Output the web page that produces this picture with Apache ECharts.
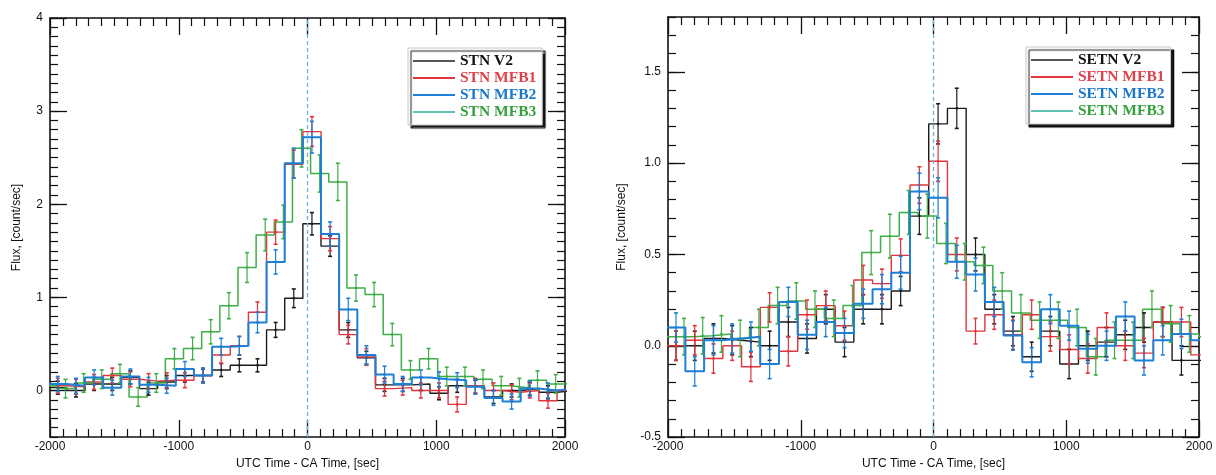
<!DOCTYPE html>
<html>
<head>
<meta charset="utf-8">
<script src="https://cdn.jsdelivr.net/npm/echarts@6/dist/echarts.min.js"></script>
<style>
  html, body { margin: 0; padding: 0; background: #fff; }
  #chart { width: 1216px; height: 475px; }
</style>
</head>
<body>
<div id="chart"></div>
<script>
// Time binning (seconds relative to closest approach)
const BIN_WIDTH = 141;
const START_MAIN = -2010;   // V2, MFB1, MFB2 bins
const START_MFB3 = -2091;   // MFB3 bins are shifted by ~60 s

// ---- STN flux [count/sec] ----
const stnV2 = [0.03, 0.0, 0.07, 0.07, 0.14, 0.02, 0.09, 0.16, 0.16, 0.22, 0.27, 0.27, 0.65, 0.99, 1.79,
  1.55, 0.65, 0.35, 0.06, 0.06, 0.07, -0.03, 0.05, 0.04, -0.07, 0.0, 0.02, -0.02, 0.0];
const stnV2Err = [0.07, 0.07, 0.07, 0.07, 0.07, 0.07, 0.07, 0.07, 0.07, 0.07, 0.07, 0.07, 0.08, 0.1, 0.12,
  0.11, 0.08, 0.07, 0.07, 0.07, 0.07, 0.07, 0.07, 0.07, 0.07, 0.07, 0.07, 0.07, 0.07];
const stnMFB1 = [0.05, 0.04, 0.09, 0.16, 0.12, 0.1, 0.11, 0.11, 0.16, 0.38, 0.48, 0.84, 1.70, 2.43, 2.78,
  1.63, 0.6, 0.36, 0.02, 0.03, 0.0, 0.0, -0.15, 0.05, 0.0, -0.02, 0.0, -0.11, 0.0];
const stnMFB1Err = [0.08, 0.08, 0.08, 0.08, 0.08, 0.08, 0.08, 0.08, 0.08, 0.09, 0.1, 0.11, 0.13, 0.15, 0.16,
  0.13, 0.1, 0.09, 0.08, 0.08, 0.08, 0.08, 0.08, 0.08, 0.08, 0.08, 0.08, 0.08, 0.08];
const stnMFB2 = [0.07, 0.05, 0.14, 0.03, 0.15, 0.06, 0.05, 0.23, 0.16, 0.47, 0.48, 0.73, 1.38, 2.44, 2.72,
  1.68, 0.87, 0.38, 0.17, 0.07, 0.14, 0.12, 0.11, 0.04, -0.08, -0.12, 0.02, 0.0, 0.02];
const stnMFB2Err = [0.08, 0.08, 0.08, 0.08, 0.08, 0.08, 0.08, 0.08, 0.08, 0.09, 0.1, 0.11, 0.13, 0.16, 0.17,
  0.13, 0.12, 0.1, 0.09, 0.08, 0.08, 0.08, 0.08, 0.08, 0.08, 0.08, 0.08, 0.08, 0.08];
const stnMFB3 = [0.05, 0.02, 0.08, 0.12, 0.18, -0.07, 0.08, 0.34, 0.45, 0.63, 0.91, 1.32, 1.67, 1.81, 2.6,
  2.33, 2.24, 1.1, 1.03, 0.6, 0.22, 0.34, 0.15, 0.15, 0.12, 0.05, 0.03, 0.11, 0.07, 0.08];
const stnMFB3Err = [0.1, 0.1, 0.1, 0.1, 0.1, 0.1, 0.1, 0.11, 0.12, 0.13, 0.14, 0.16, 0.17, 0.18, 0.2,
  0.2, 0.2, 0.14, 0.13, 0.12, 0.1, 0.11, 0.1, 0.1, 0.1, 0.1, 0.1, 0.1, 0.1, 0.1];

// ---- SETN flux [count/sec] ----
const setnV2 = [0.0, 0.0, 0.04, 0.03, 0.02, 0.0, 0.13, 0.04, 0.2, 0.02, 0.2, 0.2, 0.3, 0.71, 1.215,
  1.3, 0.5, 0.2, 0.08, -0.06, 0.08, -0.1, 0.0, 0.02, 0.06, 0.1, 0.13, -0.08, -0.08];
const setnV2Err = [0.08, 0.08, 0.08, 0.08, 0.08, 0.08, 0.08, 0.08, 0.08, 0.08, 0.08, 0.08, 0.08, 0.1, 0.11,
  0.11, 0.09, 0.08, 0.08, 0.08, 0.08, 0.08, 0.08, 0.08, 0.08, 0.08, 0.08, 0.08, 0.08];
const setnMFB1 = [0.0, 0.03, -0.07, 0.0, -0.115, 0.21, -0.03, 0.17, 0.22, 0.11, 0.36, 0.34, 0.495, 0.88, 1.01,
  0.5, 0.08, 0.17, 0.06, 0.17, 0.05, -0.02, -0.07, 0.1, 0.0, -0.04, 0.13, 0.13, -0.05];
const setnMFB1Err = [0.08, 0.08, 0.08, 0.08, 0.08, 0.08, 0.08, 0.08, 0.08, 0.08, 0.08, 0.08, 0.09, 0.1, 0.11,
  0.09, 0.07, 0.08, 0.08, 0.08, 0.08, 0.08, 0.08, 0.08, 0.08, 0.08, 0.08, 0.08, 0.08];
const setnMFB2 = [0.1, -0.14, 0.03, 0.04, 0.05, -0.1, 0.24, 0.06, 0.13, 0.07, 0.23, 0.31, 0.40, 0.845, 0.81,
  0.46, 0.39, 0.24, 0.056, -0.09, 0.2, 0.11, -0.016, 0.0, 0.16, -0.08, 0.03, 0.065, 0.03];
const setnMFB2Err = [0.08, 0.08, 0.08, 0.08, 0.08, 0.08, 0.08, 0.08, 0.08, 0.08, 0.08, 0.08, 0.09, 0.1, 0.11,
  0.09, 0.09, 0.08, 0.08, 0.08, 0.08, 0.08, 0.08, 0.08, 0.08, 0.08, 0.08, 0.08, 0.08];
const setnMFB3 = [0.05, 0.05, 0.055, 0.065, 0.04, 0.1, 0.22, 0.245, 0.2, 0.15, 0.22, 0.51, 0.6, 0.73, 0.71,
  0.56, 0.46, 0.44, 0.3, 0.18, 0.14, 0.14, 0.1, -0.06, 0.03, 0.03, 0.2, 0.12, 0.065, 0.05];
const setnMFB3Err = [0.1, 0.1, 0.1, 0.1, 0.1, 0.1, 0.1, 0.1, 0.1, 0.1, 0.11, 0.12, 0.12, 0.12, 0.12,
  0.11, 0.1, 0.1, 0.1, 0.1, 0.1, 0.1, 0.1, 0.1, 0.1, 0.1, 0.1, 0.1, 0.1, 0.1];

// Axis tick labels
const xTicks = [-2000, -1000, 0, 1000, 2000];
const stnYTicks = [0, 1, 2, 3, 4];
const setnYTicks = [-0.5, 0.0, 0.5, 1.0, 1.5];

const COLORS = { V2: '#1c1c1c', MFB1: '#e2343d', MFB2: '#1d7fd6', MFB3: '#3fae47' };
const LEGEND_LINE = { V2: '#555555', MFB1: '#e2343d', MFB2: '#1d7fd6', MFB3: '#62c2b0' };
const TEXT_COLORS = { V2: '#111111', MFB1: '#e0414a', MFB2: '#1a78cc', MFB3: '#36a03c' };
const X_TITLE = 'UTC Time - CA Time, [sec]';
const Y_TITLE = 'Flux, [count/sec]';
const INK = '#111';

function histogram(name, start, values, color, width, xi, yi, z) {
  const pts = values.map((v, i) => [start + i * BIN_WIDTH, v]);
  pts.push([start + values.length * BIN_WIDTH, values[values.length - 1]]);
  return {
    type: 'line', name, xAxisIndex: xi, yAxisIndex: yi, data: pts,
    step: 'end', symbol: 'none', showSymbol: false, clip: true, z,
    lineStyle: { color, width }, itemStyle: { color }, animation: false
  };
}

function errorBars(name, start, values, errs, color, xi, yi) {
  const data = values
    .map((v, i) => [start + (i + 0.5) * BIN_WIDTH, v, errs[i]])
    .filter(d => d[0] > -2000 && d[0] < 2000);
  return {
    type: 'custom', name, xAxisIndex: xi, yAxisIndex: yi, data, clip: true, z: 6,
    animation: false, silent: true,
    renderItem(params, api) {
      const x = api.value(0), y = api.value(1), e = api.value(2);
      const t = api.coord([x, y + e]), b = api.coord([x, y - e]), c = api.coord([x, y]);
      const cap = 2;
      return {
        type: 'group',
        children: [
          { type: 'line', shape: { x1: t[0], y1: t[1], x2: b[0], y2: b[1] }, style: { stroke: color, lineWidth: 1.2 } },
          { type: 'line', shape: { x1: t[0] - cap, y1: t[1], x2: t[0] + cap, y2: t[1] }, style: { stroke: color, lineWidth: 1.6 } },
          { type: 'line', shape: { x1: b[0] - cap, y1: b[1], x2: b[0] + cap, y2: b[1] }, style: { stroke: color, lineWidth: 1.6 } },
          { type: 'circle', shape: { cx: c[0], cy: c[1], r: 1.3 }, style: { fill: color } }
        ]
      };
    }
  };
}

function xAxes(gridIndex) {
  const base = {
    type: 'value', gridIndex, min: -2000, max: 2000, interval: 1000,
    axisLine: { show: true, onZero: false, lineStyle: { color: INK, width: 1.6 } },
    axisTick: { show: true, inside: true, length: 17, lineStyle: { color: INK, width: 1.3 } },
    minorTick: { show: true, splitNumber: 10, length: 8, lineStyle: { color: INK, width: 1.2 } },
    splitLine: { show: false }, minorSplitLine: { show: false }
  };
  return [
    Object.assign({}, base, {
      position: 'bottom',
      axisLabel: {
        show: true, margin: 4, fontSize: 12, color: INK, fontFamily: 'Liberation Sans',
        customValues: xTicks, formatter: v => String(v)
      },
      name: X_TITLE, nameLocation: 'middle', nameGap: gridIndex === 0 ? 17 : 19,
      nameTextStyle: { fontSize: 12, color: INK, fontFamily: 'Liberation Sans' }
    }),
    Object.assign({}, base, { position: 'top', axisLabel: { show: false } })
  ];
}

function yAxes(gridIndex, min, max, ticks, fmt, nameGap) {
  const minor = (position) => ({
    type: 'value', gridIndex, position, min, max, interval: 0.1,
    axisLine: { show: true, onZero: false, lineStyle: { color: INK, width: 1.6 } },
    axisTick: { show: true, inside: true, length: 8, lineStyle: { color: INK, width: 1.2 } },
    axisLabel: { show: false }, splitLine: { show: false }
  });
  const major = (position, labelled) => {
    const ax = {
      type: 'value', gridIndex, position, min, max,
      axisLine: { show: false, onZero: false },
      axisTick: { show: true, inside: true, length: 17, customValues: ticks, lineStyle: { color: INK, width: 1.3 } },
      axisLabel: labelled
        ? { show: true, customValues: ticks, formatter: fmt, margin: 7, fontSize: 12, color: INK, fontFamily: 'Liberation Sans' }
        : { show: false },
      splitLine: { show: false }
    };
    if (labelled) {
      Object.assign(ax, {
        name: Y_TITLE, nameLocation: 'middle', nameGap, nameRotate: 90,
        nameTextStyle: { fontSize: 12, color: INK, fontFamily: 'Liberation Sans' }
      });
    }
    return ax;
  };
  return [minor('left'), major('left', true), minor('right'), major('right', false)];
}

function panelSeries(prefix, sets, xi, yi) {
  const out = [];
  const order = ['V2', 'MFB1', 'MFB3', 'MFB2'];
  const widths = { V2: 1.4, MFB1: 1.4, MFB2: 2, MFB3: 1.5 };
  order.forEach((key, n) => {
    const s = sets[key];
    const line = histogram(prefix + ' ' + key, s.start, s.values, COLORS[key], widths[key], xi, yi, 3 + n);
    line.itemStyle = { color: LEGEND_LINE[key] };
    if (key === 'V2') {
      line.markLine = {
        silent: true, symbol: 'none', label: { show: false }, animation: false,
        lineStyle: { color: '#6fb4d4', type: [4, 3], width: 1.3 },
        data: [{ xAxis: 0 }]
      };
    }
    out.push(line);
  });
  order.forEach(key => {
    const s = sets[key];
    out.push(errorBars(prefix + ' ' + key + ' error', s.start, s.values, s.errs, COLORS[key], xi, yi));
  });
  return out;
}

function legendFor(prefix, left, top) {
  return {
    orient: 'vertical', left, top, icon: 'rect', itemWidth: 42, itemHeight: 2, itemGap: 1,
    selectedMode: false, backgroundColor: '#fff', borderColor: '#c8c8c8', borderWidth: 1,
    padding: [5, 6, 5, 5],
    shadowColor: 'rgba(0,0,0,0.9)', shadowOffsetX: 3, shadowOffsetY: 3, shadowBlur: 1,
    textStyle: { fontFamily: 'Liberation Serif', fontWeight: 'bold', fontSize: 15.5 },
    data: ['V2', 'MFB1', 'MFB2', 'MFB3'].map(k => ({
      name: prefix + ' ' + k, textStyle: { color: TEXT_COLORS[k] }
    }))
  };
}

const stnSets = {
  V2: { start: START_MAIN, values: stnV2, errs: stnV2Err },
  MFB1: { start: START_MAIN, values: stnMFB1, errs: stnMFB1Err },
  MFB2: { start: START_MAIN, values: stnMFB2, errs: stnMFB2Err },
  MFB3: { start: START_MFB3, values: stnMFB3, errs: stnMFB3Err }
};
const setnSets = {
  V2: { start: START_MAIN, values: setnV2, errs: setnV2Err },
  MFB1: { start: START_MAIN, values: setnMFB1, errs: setnMFB1Err },
  MFB2: { start: START_MAIN, values: setnMFB2, errs: setnMFB2Err },
  MFB3: { start: START_MFB3, values: setnMFB3, errs: setnMFB3Err }
};

const chart = echarts.init(document.getElementById('chart'), null, { renderer: 'canvas' });
chart.setOption({
  backgroundColor: '#fff',
  animation: false,
  grid: [
    { left: 50, top: 18, width: 515, height: 419 },
    { left: 668, top: 17, width: 531, height: 428 }
  ],
  xAxis: [...xAxes(0), ...xAxes(1)],
  yAxis: [
    ...yAxes(0, -0.5, 4, stnYTicks, v => String(Math.round(v)), 27),
    ...yAxes(1, -0.5, 1.8, setnYTicks, v => Number(v).toFixed(1), 40)
  ],
  legend: [legendFor('STN', 408, 48), legendFor('SETN', 1026, 47)],
  series: [
    ...panelSeries('STN', stnSets, 0, 0),
    ...panelSeries('SETN', setnSets, 2, 4)
  ]
});
</script>
</body>
</html>
